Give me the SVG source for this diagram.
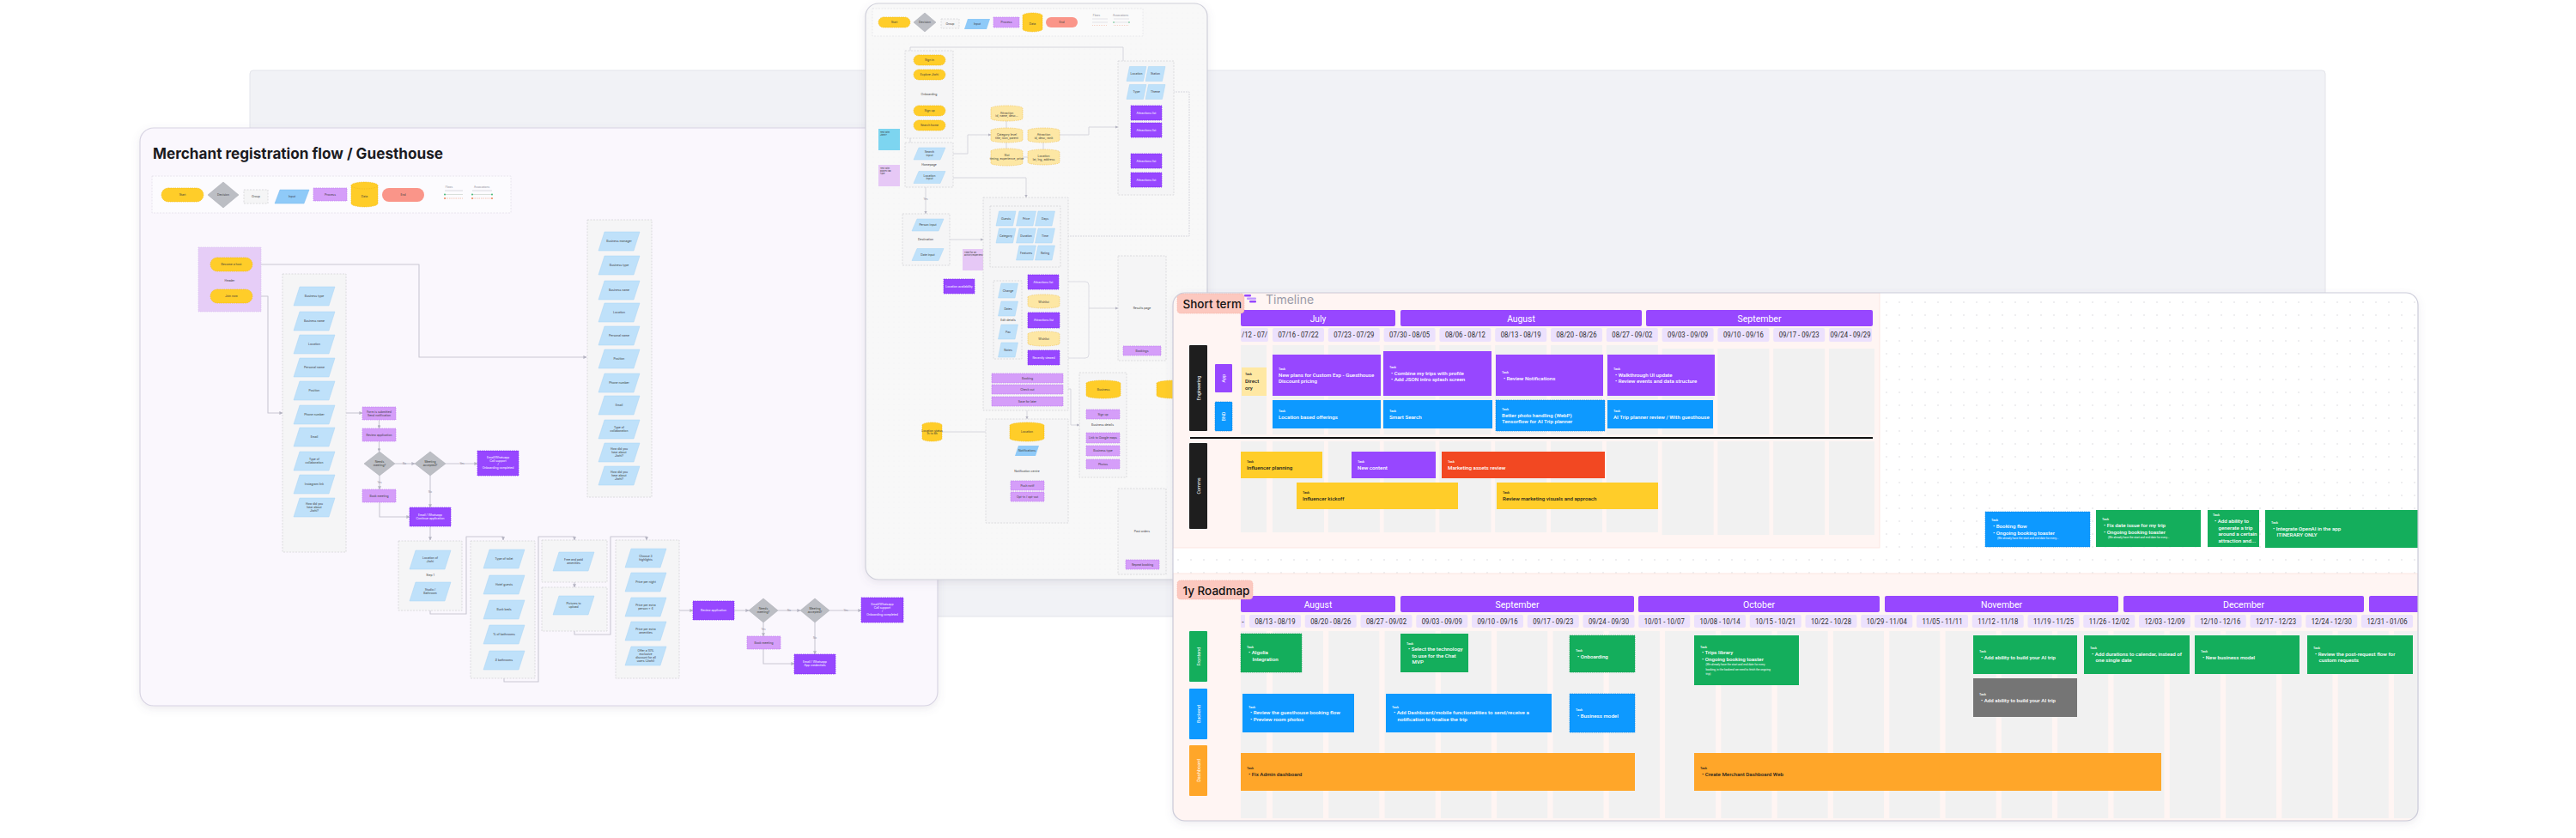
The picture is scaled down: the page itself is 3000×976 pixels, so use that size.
<svg xmlns="http://www.w3.org/2000/svg" xmlns:xlink="http://www.w3.org/1999/xlink" width="3000" height="976" viewBox="0 0 3000 976">
<defs>
<style>
.ff{font-family:Inter,'Noto Sans','Liberation Sans',sans-serif}
.t{font-family:Inter,'Noto Sans','Liberation Sans',sans-serif;font-size:3.4px;fill:#3a3a3a;text-anchor:middle}
.tw{font-family:Inter,'Noto Sans','Liberation Sans',sans-serif;font-size:3.4px;fill:#fff;text-anchor:middle}
.tl{font-family:Inter,'Noto Sans','Liberation Sans',sans-serif;font-size:3px;fill:#8a8a95;text-anchor:middle}
.grp{fill:#f5f5f6;stroke:#d4d4d8;stroke-width:0.8;stroke-dasharray:2 1.5}
.para{fill:#bfe1fa;stroke:#a9d4f5;stroke-width:0.5}
.pr{fill:#d59ef9;stroke:#c27ff2;stroke-width:0.7;stroke-dasharray:1.5 1}
.pd{fill:#9747ff;stroke:#7f2cf5;stroke-width:0.7;stroke-dasharray:1.5 1}
.dm{fill:#bcbec4;stroke:#a9abb2;stroke-width:0.5}
.yl{fill:#ffcd29;stroke:#f0b912;stroke-width:0.6;stroke-dasharray:1.5 1}
.cyl{fill:#fde7a4;stroke:#f0c04e;stroke-width:0.6;stroke-dasharray:1.5 1}
.cn{fill:none;stroke:#c9c8d3;stroke-width:1.1;stroke-linejoin:round}
.cnm{fill:none;stroke:#d2d2da;stroke-width:0.9;stroke-linejoin:round}
.wk{fill:#ece1fd}
.wt{font-family:Roboto,'Liberation Sans',sans-serif;font-size:8.5px;fill:#2b2b2b;text-anchor:middle}
.mb{fill:#9747ff}
.mt{font-family:Roboto,'Liberation Sans',sans-serif;font-size:11.5px;fill:#fff;text-anchor:middle}
.st{fill:#f1f1f1}
.tk{font-family:Roboto,'Liberation Sans',sans-serif;font-size:3.8px;font-weight:500}
.ct{font-family:Roboto,'Liberation Sans',sans-serif;font-size:6.2px;font-weight:500}
.cs{font-family:Roboto,'Liberation Sans',sans-serif;font-size:3.2px}
.w{fill:#fff}
.k{fill:#1e1e1e}
.rl{font-family:Roboto,'Liberation Sans',sans-serif;font-size:5.5px;fill:#fff;text-anchor:middle}
.lbl{font-family:Inter,'Noto Sans','Liberation Sans',sans-serif;font-size:13.5px;font-weight:500;fill:#111}
</style>
<pattern id="dotsT" width="15" height="15" patternUnits="userSpaceOnUse"><circle cx="7" cy="7" r="0.75" fill="#d3d3da"/></pattern>
<pattern id="dotsM" width="6" height="6" patternUnits="userSpaceOnUse"><circle cx="3" cy="3" r="0.45" fill="#e6e6ea"/></pattern>
<marker id="ar" viewBox="0 0 6 6" refX="5.5" refY="3" markerWidth="3.6" markerHeight="3.6" orient="auto"><path d="M0,0L6,3L0,6z" fill="#b5b4c2"/></marker>
<filter id="sh" x="-5%" y="-5%" width="110%" height="112%"><feDropShadow dx="0" dy="3" stdDeviation="5" flood-color="#6a6080" flood-opacity="0.13"/></filter>
<polygon id="pl" points="-17,-11 24,-11 17,11 -24,11"/>
<polygon id="pm" points="-12.5,-7 18.5,-7 12.5,7 -18.5,7"/>
<polygon id="ps" points="-8,-8.5 11.5,-8.5 8,8.5 -11.5,8.5"/>
<polygon id="dia" points="0,-14 18,0 0,14 -18,0"/>
<polygon id="diaS" points="0,-14 17,0 0,14 -17,0"/>
<clipPath id="tlc"><rect x="1366" y="341" width="1450" height="615" rx="14"/></clipPath>
<clipPath id="c1"><rect x="1445" y="382" width="32" height="16"/></clipPath>
</defs>

<rect width="3000" height="976" fill="#ffffff"/>
<rect id="backdrop" x="291" y="82" width="2417" height="636" rx="4" fill="#f1f2f6" stroke="#e3e4ea" stroke-width="1"/>

<!-- ============ LEFT PANEL ============ -->
<g id="merchant-flow">
<rect x="163" y="149" width="929" height="673" rx="16" fill="#faf7fd" stroke="#d8d4e3" stroke-width="1.2" filter="url(#sh)"/>
<text class="ff" x="178" y="185" font-size="17" font-weight="700" fill="#1b1b1f" textLength="338" lengthAdjust="spacingAndGlyphs">Merchant registration flow / Guesthouse</text>
<g id="legend-left">
<rect x="177" y="205" width="418" height="43" fill="#fcfbfe" stroke="#e3e0ea" stroke-width="0.8" stroke-dasharray="2 1.5"/>
<rect x="188" y="219" width="49" height="16" rx="8" class="yl"/><text class="t" x="212.5" y="228.2">Start</text>
<polygon points="260,212 278,227 260,242 242,227" class="dm"/><text class="t" x="260" y="228.2">Decision</text>
<rect x="284" y="221" width="28" height="16" class="grp" fill="#fafafa"/><text class="t" x="298" y="230.2">Group</text>
<polygon points="326,221 360,221 354,237 320,237" fill="#8fcaf8" stroke="#7ab8ef" stroke-width="0.5"/><text class="t" x="340" y="230.2">Input</text>
<rect x="365" y="219" width="39" height="15" class="pr"/><text class="t" x="384.5" y="227.7">Process</text>
<path d="M409,216a15.5,4 0 0 1 31,0v21a15.5,4 0 0 1 -31,0z" class="yl"/><path d="M409,216a15.5,4 0 0 0 31,0" fill="none" stroke="#e5ad10" stroke-width="0.5" stroke-dasharray="1 1"/><text class="t" x="424.5" y="230">Data</text>
<rect x="445" y="219" width="49" height="16" rx="8" fill="#fa9589"/><text class="t" x="469.5" y="228.2">End</text>
<text class="tl" x="523" y="218.5">Flows</text>
<path d="M518,222H539" stroke="#d0d0d8" stroke-width="0.8"/><path d="M518,226.5H539" stroke="#cfd8d2" stroke-width="0.8"/><path d="M518,231H539" stroke="#f3b9a2" stroke-width="0.8" stroke-dasharray="1.5 1"/>
<circle cx="518" cy="226.5" r="0.9" fill="#33b36b"/><circle cx="518" cy="231" r="0.9" fill="#ee7a4e"/>
<text class="tl" x="561" y="218.5">Associations</text>
<path d="M550,222H573" stroke="#d0d0d8" stroke-width="0.8"/><path d="M550,226.5H573" stroke="#cfd8d2" stroke-width="0.8"/><path d="M550,231H573" stroke="#f3b9a2" stroke-width="0.8" stroke-dasharray="1.5 1"/>
<circle cx="550" cy="226.5" r="0.9" fill="#33b36b"/><circle cx="573" cy="226.5" r="0.9" fill="#33b36b"/><circle cx="550" cy="231" r="0.9" fill="#ee7a4e"/><circle cx="573" cy="231" r="0.9" fill="#ee7a4e"/>
</g>

<g id="left-connectors">
<path class="cn" d="M294,308H488V416H683" marker-end="url(#ar)"/>
<path class="cn" d="M294,345H312V481H329" marker-end="url(#ar)"/>
<path class="cn" d="M403,481H422" marker-end="url(#ar)"/>
<path class="cn" d="M441.5,489V499" marker-end="url(#ar)"/>
<path class="cn" d="M441.5,514V526" marker-end="url(#ar)"/>
<path class="cn" d="M460,540H483" marker-end="url(#ar)"/>
<path class="cn" d="M519,540H556" marker-end="url(#ar)"/>
<path class="cn" d="M442,554V570" marker-end="url(#ar)"/>
<path class="cn" d="M442,585V602H477" marker-end="url(#ar)"/>
<path class="cn" d="M501,554V591" marker-end="url(#ar)"/>
<path class="cn" d="M501,613V629" marker-end="url(#ar)"/>
<path class="cn" d="M501,711V715H543V625H586V629" marker-end="url(#ar)"/>
<path class="cn" d="M587,790V794H627V625H669V629" marker-end="url(#ar)"/>
<path class="cn" d="M669,678V684" marker-end="url(#ar)"/>
<path class="cn" d="M669,735V739H711V625H753V629" marker-end="url(#ar)"/>
<path class="cn" d="M791,711H807" marker-end="url(#ar)"/>
<path class="cn" d="M855,711H872" marker-end="url(#ar)"/>
<path class="cn" d="M906,711H932" marker-end="url(#ar)"/>
<path class="cn" d="M966,711H1003" marker-end="url(#ar)"/>
<path class="cn" d="M889,725V741" marker-end="url(#ar)"/>
<path class="cn" d="M889,756V773H925" marker-end="url(#ar)"/>
<path class="cn" d="M949,725V762" marker-end="url(#ar)"/>
<text class="tl" x="471" y="541">No</text><text class="tl" x="538" y="541">Yes</text>
<text class="tl" x="442" y="563">Yes</text><text class="tl" x="501" y="574">No</text>
<text class="tl" x="919" y="712">No</text><text class="tl" x="985" y="712">Yes</text>
<text class="tl" x="889" y="734">Yes</text><text class="tl" x="949" y="744">No</text>
</g>

<g id="start-group">
<rect x="231" y="288" width="73" height="75" fill="#e6cdf7" stroke="#d9bdf0" stroke-width="0.6" stroke-dasharray="1.5 1"/>
<rect x="245" y="300" width="49" height="16" rx="8" class="yl"/><text class="t" x="269.5" y="309.2">Become a host</text>
<text class="t" x="267.5" y="327.5">Header</text>
<rect x="245" y="337" width="49" height="16" rx="8" class="yl"/><text class="t" x="269.5" y="346.2">Join now</text>
</g>

<g id="form-step1">
<rect x="329" y="319" width="74" height="324" class="grp"/>
<use href="#pl" x="366" y="345" class="para"/><text class="t" x="366" y="346.2">Business type</text>
<use href="#pl" x="366" y="374" class="para"/><text class="t" x="366" y="375.2">Business name</text>
<use href="#pl" x="366" y="401" class="para"/><text class="t" x="366" y="402.2">Location</text>
<use href="#pl" x="366" y="428" class="para"/><text class="t" x="366" y="429.2">Personal name</text>
<use href="#pl" x="366" y="455" class="para"/><text class="t" x="366" y="456.2">Position</text>
<use href="#pl" x="366" y="483" class="para"/><text class="t" x="366" y="484.2">Phone number</text>
<use href="#pl" x="366" y="509" class="para"/><text class="t" x="366" y="510.2">Email</text>
<use href="#pl" x="366" y="537" class="para"/><text class="t" x="366" y="535.6">Type of</text><text class="t" x="366" y="539.8">collaboration</text>
<use href="#pl" x="366" y="564" class="para"/><text class="t" x="366" y="565.2">Instagram link</text>
<use href="#pl" x="366" y="591" class="para"/><text class="t" x="366" y="587.8">How did you</text><text class="t" x="366" y="592">hear about</text><text class="t" x="366" y="596.2">Jiwhi?</text>
</g>

<g id="form-step1b">
<rect x="684" y="256" width="75" height="323" class="grp"/>
<use href="#pl" x="721" y="281" class="para"/><text class="t" x="721" y="282.2">Business manager</text>
<use href="#pl" x="721" y="309" class="para"/><text class="t" x="721" y="310.2">Business type</text>
<use href="#pl" x="721" y="338" class="para"/><text class="t" x="721" y="339.2">Business name</text>
<use href="#pl" x="721" y="364" class="para"/><text class="t" x="721" y="365.2">Location</text>
<use href="#pl" x="721" y="391" class="para"/><text class="t" x="721" y="392.2">Personal name</text>
<use href="#pl" x="721" y="418" class="para"/><text class="t" x="721" y="419.2">Position</text>
<use href="#pl" x="721" y="446" class="para"/><text class="t" x="721" y="447.2">Phone number</text>
<use href="#pl" x="721" y="472" class="para"/><text class="t" x="721" y="473.2">Email</text>
<use href="#pl" x="721" y="500" class="para"/><text class="t" x="721" y="498.6">Type of</text><text class="t" x="721" y="502.8">collaboration</text>
<use href="#pl" x="721" y="527" class="para"/><text class="t" x="721" y="523.8">How did you</text><text class="t" x="721" y="528">hear about</text><text class="t" x="721" y="532.2">Jiwhi?</text>
<use href="#pl" x="721" y="554" class="para"/><text class="t" x="721" y="550.8">How did you</text><text class="t" x="721" y="555">hear about</text><text class="t" x="721" y="559.2">Jiwhi?</text>
</g>

<g id="review-flow-1">
<rect x="422" y="474" width="39" height="15" class="pr"/><text class="t" x="441.5" y="480.5">Form is submitted</text><text class="t" x="441.5" y="484.6">Send notification</text>
<rect x="422" y="499" width="39" height="15" class="pr"/><text class="t" x="441.5" y="507.6">Review application</text>
<use href="#dia" x="442" y="540" class="dm"/><text class="t" x="442" y="539">Needs</text><text class="t" x="442" y="543">meeting?</text>
<use href="#dia" x="501" y="540" class="dm"/><text class="t" x="501" y="539">Meeting</text><text class="t" x="501" y="543">accepted?</text>
<rect x="556" y="525" width="48" height="29" class="pd"/><text class="tw" x="580" y="533.5">Email/Whatsapp</text><text class="tw" x="580" y="537.7">Call support</text><text class="tw" x="580" y="541.9">/</text><text class="tw" x="580" y="546.1">Onboarding completed</text>
<rect x="422" y="570" width="39" height="15" class="pr"/><text class="t" x="441.5" y="578.6">Book meeting</text>
<rect x="477" y="591" width="48" height="22" class="pd"/><text class="tw" x="501" y="600.8">Email / Whatsapp</text><text class="tw" x="501" y="605">Continue application</text>
</g>

<g id="form-step2">
<rect x="464" y="630" width="74" height="81" class="grp"/>
<use href="#pl" x="501" y="652" class="para"/><text class="t" x="501" y="650.6">Location of</text><text class="t" x="501" y="654.8">Jiwhi</text>
<text class="t" x="501" y="671.2">Step 1</text>
<use href="#pl" x="501" y="689" class="para"/><text class="t" x="501" y="687.6">Studio /</text><text class="t" x="501" y="691.8">Bathroom</text>
</g>
<g id="form-step3">
<rect x="548" y="630" width="75" height="160" class="grp"/>
<use href="#pl" x="587" y="651" class="para"/><text class="t" x="587" y="652.2">Type of toilet</text>
<use href="#pl" x="587" y="681" class="para"/><text class="t" x="587" y="682.2">Hotel guests</text>
<use href="#pl" x="587" y="710" class="para"/><text class="t" x="587" y="711.2">Bunk beds</text>
<use href="#pl" x="587" y="739" class="para"/><text class="t" x="587" y="740.2">% of bathrooms</text>
<use href="#pl" x="587" y="769" class="para"/><text class="t" x="587" y="770.2"># bathrooms</text>
</g>
<g id="form-step4">
<rect x="631" y="629" width="76" height="49" class="grp"/>
<use href="#pl" x="668" y="654" class="para"/><text class="t" x="668" y="652.6">Free and paid</text><text class="t" x="668" y="656.8">amenities</text>
</g>
<g id="form-step5">
<rect x="631" y="684" width="76" height="51" class="grp"/>
<use href="#pl" x="668" y="705" class="para"/><text class="t" x="668" y="703.6">Pictures to</text><text class="t" x="668" y="707.8">upload</text>
</g>
<g id="form-step6">
<rect x="717" y="629" width="74" height="161" class="grp"/>
<use href="#pl" x="752" y="650" class="para"/><text class="t" x="752" y="648.6">Choose 3</text><text class="t" x="752" y="652.8">highlights</text>
<use href="#pl" x="752" y="678" class="para"/><text class="t" x="752" y="679.2">Price per night</text>
<use href="#pl" x="752" y="707" class="para"/><text class="t" x="752" y="705.6">Price per extra</text><text class="t" x="752" y="709.8">person + 4</text>
<use href="#pl" x="752" y="735" class="para"/><text class="t" x="752" y="733.6">Price per extra</text><text class="t" x="752" y="737.8">amenities</text>
<use href="#pl" x="752" y="764" class="para"/><text class="t" x="752" y="758.6">Offer a 10%</text><text class="t" x="752" y="762.8">exclusive</text><text class="t" x="752" y="767">discount for all</text><text class="t" x="752" y="771.2">users (Jiwhi)</text>
</g>
<g id="review-flow-2">
<rect x="807" y="700" width="48" height="22" class="pd"/><text class="tw" x="831" y="712.2">Review application</text>
<use href="#diaS" x="889" y="711" class="dm"/><text class="t" x="889" y="710">Needs</text><text class="t" x="889" y="714">meeting?</text>
<use href="#diaS" x="949" y="711" class="dm"/><text class="t" x="949" y="710">Meeting</text><text class="t" x="949" y="714">accepted?</text>
<rect x="1003" y="696" width="49" height="29" class="pd"/><text class="tw" x="1027.5" y="704.5">Email/Whatsapp</text><text class="tw" x="1027.5" y="708.7">Call support</text><text class="tw" x="1027.5" y="712.9">/</text><text class="tw" x="1027.5" y="717.1">Onboarding completed</text>
<rect x="870" y="741" width="39" height="15" class="pr"/><text class="t" x="889.5" y="749.6">Book meeting</text>
<rect x="925" y="762" width="48" height="23" class="pd"/><text class="tw" x="949" y="772">Email / Whatsapp</text><text class="tw" x="949" y="776.2">App credentials</text>
</g>
</g>

<!-- ============ MIDDLE PANEL ============ -->
<g id="app-flow">
<rect x="1008" y="4" width="398" height="671" rx="15" fill="#f8f8f8" stroke="#cfcfda" stroke-width="1.2" filter="url(#sh)"/>
<rect x="1008" y="4" width="398" height="671" rx="15" fill="url(#dotsM)"/>
<g id="legend-mid">
<rect x="1016" y="10" width="315" height="32" fill="#fafafa" stroke="#e2e2e6" stroke-width="0.7" stroke-dasharray="2 1.5"/>
<rect x="1023" y="20" width="37" height="12" rx="6" class="yl"/><text class="t" x="1041.5" y="27.2" font-size="2.8">Start</text>
<polygon points="1077,15 1090,26 1077,37 1064,26" class="dm"/><text class="t" x="1077" y="27" font-size="2.8">Decision</text>
<rect x="1096" y="22" width="21" height="11" class="grp" fill="#fafafa"/><text class="t" x="1106.5" y="28.5" font-size="2.8">Group</text>
<polygon points="1127,22 1153,22 1149,34 1123,34" fill="#8fcaf8"/><text class="t" x="1138" y="29" font-size="2.8">Input</text>
<rect x="1157" y="20" width="30" height="12" class="pr"/><text class="t" x="1172" y="27" font-size="2.8">Process</text>
<path d="M1191,18a11.5,3 0 0 1 23,0v16a11.5,3 0 0 1 -23,0z" class="yl"/><text class="t" x="1202.5" y="28.5" font-size="2.8">Data</text>
<rect x="1218" y="20" width="37" height="12" rx="6" fill="#fa9589"/><text class="t" x="1236.5" y="27.2" font-size="2.8">End</text>
<text class="tl" x="1277" y="19" font-size="2.5">Flows</text>
<path d="M1272,22H1290M1272,26H1290" stroke="#d4d4dc" stroke-width="0.6"/><path d="M1272,29.5H1290" stroke="#f3b9a2" stroke-width="0.6" stroke-dasharray="1 1"/>
<text class="tl" x="1305" y="19" font-size="2.5">Associations</text>
<path d="M1297,22H1315M1297,26H1315" stroke="#d4d4dc" stroke-width="0.6"/><path d="M1297,29.5H1315" stroke="#f3b9a2" stroke-width="0.6" stroke-dasharray="1 1"/>
<circle cx="1297" cy="26" r="0.7" fill="#33b36b"/><circle cx="1315" cy="26" r="0.7" fill="#33b36b"/>
</g>
<g id="mid-connectors">
<path class="cnm" d="M1060,207V55H1308V132H1317" marker-end="url(#ar)"/>
<path class="cnm" d="M1101,179H1127V157H1154" marker-end="url(#ar)"/>
<path class="cnm" d="M1234,157H1268V148H1302" marker-end="url(#ar)"/>
<path class="cnm" d="M1357,107H1385V275H1235" marker-end="url(#ar)" stroke-dasharray="2 1"/>
<path class="cnm" d="M1101,207H1195V230" marker-end="url(#ar)"/>
<path class="cnm" d="M1078,218V249" marker-end="url(#ar)"/>
<text class="tl" x="1078" y="233" font-size="2.5">Yes</text>
<path class="cnm" d="M1106,279H1145" marker-end="url(#ar)"/>
<rect x="1193" y="328" width="75" height="89" rx="4" fill="none" stroke="#d6d6de" stroke-width="0.8"/>
<path class="cnm" d="M1268,359H1302" marker-end="url(#ar)"/>
<path class="cnm" d="M1238,453H1247V495H1257" marker-end="url(#ar)"/>
<path class="cnm" d="M1196,478V488" marker-end="url(#ar)"/>
<path class="cnm" d="M1097,503H1176" marker-end="url(#ar)"/>
<path class="cnm" d="M1172,141V149M1172,166V173M1215,166V174M1191,183H1197"/>
</g>
<g id="group-a">
<rect x="1054" y="59" width="56" height="102" class="grp"/>
<rect x="1064" y="64" width="37" height="12" rx="6" class="yl"/><text class="t" x="1082.5" y="71" font-size="2.6">Sign in</text>
<rect x="1064" y="81" width="37" height="12" rx="6" class="yl"/><text class="t" x="1082.5" y="88" font-size="2.6">Explore Jiwhi</text>
<text class="t" x="1082" y="111" font-size="2.6">Onboarding</text>
<rect x="1064" y="123" width="37" height="12" rx="6" class="yl"/><text class="t" x="1082.5" y="130" font-size="2.6">Sign up</text>
<rect x="1064" y="140" width="37" height="12" rx="6" class="yl"/><text class="t" x="1082.5" y="147" font-size="2.6">Search home</text>
</g>
<g id="group-b">
<rect x="1054" y="166" width="56" height="52" class="grp"/>
<use href="#pm" x="1082.5" y="179" class="para"/><text class="t" x="1082.5" y="178" font-size="2.6">Search</text><text class="t" x="1082.5" y="181.5" font-size="2.6">input</text>
<text class="t" x="1082" y="193" font-size="2.6">Homepage</text>
<use href="#pm" x="1082.5" y="206.5" class="para"/><text class="t" x="1082.5" y="205.5" font-size="2.6">Location</text><text class="t" x="1082.5" y="209" font-size="2.6">input</text>
</g>
<g id="stickies">
<rect x="1023" y="150" width="25" height="25" fill="#7dd5f0"/><text class="ff" x="1025" y="155" font-size="2.6" fill="#333">Test with</text><text class="ff" x="1025" y="158" font-size="2.6" fill="#333">Jiwhi?</text>
<rect x="1023" y="192" width="25" height="25" fill="#e6c8f6"/><text class="ff" x="1025" y="197" font-size="2.6" fill="#333">Test with</text><text class="ff" x="1025" y="200" font-size="2.6" fill="#333">places tab</text><text class="ff" x="1025" y="203" font-size="2.6" fill="#333">type</text>
<rect x="1121" y="290" width="26" height="25" fill="#e6c8f6"/><text class="ff" x="1123" y="295" font-size="2.6" fill="#333">Time for an</text><text class="ff" x="1123" y="298" font-size="2.6" fill="#333">activity/experience</text>
</g>
<g id="data-stores">
<path d="M1154,126a18.5,3 0 0 1 37,0v12a18.5,3 0 0 1 -37,0z" class="cyl"/><text class="t" x="1172.5" y="132.5" font-size="2.6">Attraction</text><text class="t" x="1172.5" y="136" font-size="2.6">id, name, desc...</text>
<path d="M1154,152a18.5,3 0 0 1 37,0v11a18.5,3 0 0 1 -37,0z" class="cyl"/><text class="t" x="1172.5" y="158" font-size="2.6">Category level</text><text class="t" x="1172.5" y="161.5" font-size="2.6">title, icon, parent</text>
<path d="M1197,152a18.5,3 0 0 1 37,0v11a18.5,3 0 0 1 -37,0z" class="cyl"/><text class="t" x="1215.5" y="158" font-size="2.6">Attraction</text><text class="t" x="1215.5" y="161.5" font-size="2.6">id, desc, rank</text>
<path d="M1154,176a18.5,3 0 0 1 37,0v14a18.5,3 0 0 1 -37,0z" class="cyl"/><text class="t" x="1172.5" y="182" font-size="2.6">Slot</text><text class="t" x="1172.5" y="185.5" font-size="2.6">timing, experience, price</text>
<path d="M1197,177a18.5,3 0 0 1 37,0v12a18.5,3 0 0 1 -37,0z" class="cyl"/><text class="t" x="1215.5" y="183" font-size="2.6">Location</text><text class="t" x="1215.5" y="186.5" font-size="2.6">lat, lng, address</text>
</g>
<g id="group-r">
<rect x="1302" y="71" width="65" height="156" class="grp"/>
<use href="#ps" x="1323.5" y="86" class="para"/><text class="t" x="1323.5" y="87" font-size="2.5">Location</text>
<use href="#ps" x="1345.5" y="86" class="para"/><text class="t" x="1345.5" y="87" font-size="2.5">Station</text>
<use href="#ps" x="1323.5" y="107" class="para"/><text class="t" x="1323.5" y="108" font-size="2.5">Type</text>
<use href="#ps" x="1345.5" y="107" class="para"/><text class="t" x="1345.5" y="108" font-size="2.5">Theme</text>
<rect x="1317" y="123" width="36" height="17" class="pd"/><text class="tw" x="1335" y="132.5" font-size="2.5">Attractions list</text>
<rect x="1317" y="143" width="36" height="17" class="pd"/><text class="tw" x="1335" y="152.5" font-size="2.5">Attractions list</text>
<rect x="1317" y="179" width="36" height="17" class="pd"/><text class="tw" x="1335" y="188.5" font-size="2.5">Attractions list</text>
<rect x="1317" y="201" width="36" height="17" class="pd"/><text class="tw" x="1335" y="210.5" font-size="2.5">Attractions list</text>
</g>
<g id="group-c">
<rect x="1051" y="249" width="55" height="60" class="grp"/>
<use href="#pm" x="1080.5" y="262" class="para"/><text class="t" x="1080.5" y="263" font-size="2.6">Person input</text>
<text class="t" x="1078" y="280" font-size="2.6">Destination</text>
<use href="#pm" x="1080.5" y="296.5" class="para"/><text class="t" x="1080.5" y="297.5" font-size="2.6">Date input</text>
</g>
<rect x="1099" y="325" width="36" height="17" class="pd"/><text class="tw" x="1117" y="334.5" font-size="2.5">Location availability</text>
<g id="group-d">
<rect x="1145" y="230" width="99" height="248" class="grp"/>
<rect x="1153" y="240" width="82" height="71" class="grp" fill="#f9f9fa"/>
<use href="#ps" x="1171.5" y="254.5" class="para"/><use href="#ps" x="1195" y="254.5" class="para"/><use href="#ps" x="1217" y="254.5" class="para"/>
<use href="#ps" x="1171.5" y="274.5" class="para"/><use href="#ps" x="1195" y="274.5" class="para"/><use href="#ps" x="1217" y="274.5" class="para"/>
<use href="#ps" x="1195" y="294.5" class="para"/><use href="#ps" x="1217" y="294.5" class="para"/>
<text class="t" x="1171.5" y="255.5" font-size="2.4">Guests</text><text class="t" x="1195" y="255.5" font-size="2.4">Price</text><text class="t" x="1217" y="255.5" font-size="2.4">Days</text>
<text class="t" x="1171.5" y="275.5" font-size="2.4">Category</text><text class="t" x="1195" y="275.5" font-size="2.4">Duration</text><text class="t" x="1217" y="275.5" font-size="2.4">Time</text>
<text class="t" x="1195" y="295.5" font-size="2.4">Features</text><text class="t" x="1217" y="295.5" font-size="2.4">Rating</text>
<rect x="1157" y="327" width="33" height="91" class="grp" fill="#f9f9fa"/>
<use href="#ps" x="1174" y="338.5" class="para"/><text class="t" x="1174" y="339.5" font-size="2.4">Change</text>
<use href="#ps" x="1174" y="359.5" class="para"/><text class="t" x="1174" y="360.5" font-size="2.4">Dates</text>
<text class="t" x="1174" y="374" font-size="2.4">Edit details</text>
<use href="#ps" x="1174" y="386.5" class="para"/><text class="t" x="1174" y="387.5" font-size="2.4">Pax</text>
<use href="#ps" x="1174" y="407.5" class="para"/><text class="t" x="1174" y="408.5" font-size="2.4">Notes</text>
<rect x="1197" y="320" width="36" height="17" class="pd"/><text class="tw" x="1215" y="329.5" font-size="2.4">Attractions list</text>
<path d="M1197,346a18.5,3 0 0 1 37,0v10a18.5,3 0 0 1 -37,0z" class="cyl"/><text class="t" x="1215.5" y="352.5" font-size="2.4">Wishlist</text>
<rect x="1197" y="364" width="37" height="18" class="pd"/><text class="tw" x="1215.5" y="374" font-size="2.4">Attractions list</text>
<path d="M1197,389a18.5,3 0 0 1 37,0v11a18.5,3 0 0 1 -37,0z" class="cyl"/><text class="t" x="1215.5" y="396" font-size="2.4">Wishlist</text>
<rect x="1197" y="408" width="37" height="17" class="pd"/><text class="tw" x="1215.5" y="417.5" font-size="2.4">Recently viewed</text>
<rect x="1155" y="435" width="83" height="11" class="pr"/><text class="t" x="1196.5" y="441.5" font-size="2.6">Booking</text>
<rect x="1155" y="448" width="83" height="11" class="pr"/><text class="t" x="1196.5" y="454.5" font-size="2.6">Check out</text>
<rect x="1155" y="462" width="83" height="11" class="pr"/><text class="t" x="1196.5" y="468.5" font-size="2.6">Save for later</text>
</g>
<g id="group-e">
<rect x="1302" y="298" width="56" height="122" class="grp"/>
<text class="t" x="1330" y="360" font-size="2.6">Results page</text>
<rect x="1308" y="403" width="44" height="11" class="pr"/><text class="t" x="1330" y="409.5" font-size="2.5">Bookings</text>
</g>
<g id="group-f">
<rect x="1148" y="488" width="96" height="121" class="grp"/>
<path d="M1176,495.5a20,3.5 0 0 1 40,0v15a20,3.5 0 0 1 -40,0z" class="yl"/><text class="t" x="1196" y="504" font-size="2.6">Location</text>
<polygon points="1186,519 1210,519 1206,531 1182,531" fill="#8fcaf8"/><text class="t" x="1196" y="526" font-size="2.4">Notifications</text>
<text class="t" x="1196" y="550" font-size="2.6">Notification centre</text>
<rect x="1177" y="560" width="39" height="11" class="pr"/><text class="t" x="1196.5" y="566.5" font-size="2.4">Push notif</text>
<rect x="1177" y="573" width="39" height="11" class="pr"/><text class="t" x="1196.5" y="579.5" font-size="2.4">Opt-in / opt-out</text>
</g>
<path d="M1074,495a11.5,3 0 0 1 23,0v16a11.5,3 0 0 1 -23,0z" class="yl"/><text class="t" x="1085.5" y="502.5" font-size="2.4">Location status</text><text class="t" x="1085.5" y="505.5" font-size="2.4">1h to 6h</text>
<g id="group-g">
<rect x="1257" y="434" width="55" height="122" class="grp"/>
<path d="M1265,446.5a20,3.5 0 0 1 40,0v14a20,3.5 0 0 1 -40,0z" class="yl"/><text class="t" x="1285" y="455" font-size="2.6">Business</text>
<rect x="1265" y="477" width="39" height="11" class="pr"/><text class="t" x="1284.5" y="483.5" font-size="2.4">Sign up</text>
<text class="t" x="1284" y="496" font-size="2.4">Business details</text>
<rect x="1265" y="504" width="39" height="12" class="pr"/><text class="t" x="1284.5" y="511" font-size="2.4">Link to Google maps</text>
<rect x="1265" y="519" width="39" height="12" class="pr"/><text class="t" x="1284.5" y="526" font-size="2.4">Business type</text>
<rect x="1265" y="535" width="39" height="11" class="pr"/><text class="t" x="1284.5" y="541.5" font-size="2.4">Photos</text>
</g>
<g id="group-h">
<rect x="1302" y="569" width="56" height="100" class="grp"/>
<text class="t" x="1330" y="620" font-size="2.6">Past orders</text>
<rect x="1311" y="652" width="39" height="11" class="pr"/><text class="t" x="1330.5" y="658.5" font-size="2.4">Repeat booking</text>
</g>
<path d="M1347,446.5a20,3.5 0 0 1 40,0v14a20,3.5 0 0 1 -40,0z" class="yl"/>
</g>

<!-- ============ TIMELINE PANEL ============ -->
<g id="timeline">
<rect x="1366" y="341" width="1450" height="615" rx="14" fill="#ffffff" filter="url(#sh)"/>
<g clip-path="url(#tlc)">
<rect x="1366" y="341" width="1450" height="615" fill="url(#dotsT)"/>
<g id="short-term">
<rect x="1366" y="341" width="823" height="297" fill="#fff5f3" stroke="#fbe1db" stroke-width="0.8"/>
<rect x="1449" y="343" width="8" height="2.6" rx="1" fill="#9747ff"/><rect x="1452" y="346.5" width="11" height="2.6" rx="1" fill="#c29bff"/><rect x="1455" y="350" width="8" height="2.6" rx="1" fill="#9747ff"/>
<text class="ff" x="1474" y="353.5" font-size="14" fill="#9b9ba8">Timeline</text>
<g id="st-strips">
<rect class="st" x="1445" y="402" width="30" height="104"/><rect class="st" x="1445" y="514" width="30" height="106"/>
<rect class="st" x="1482" y="402" width="60" height="104"/><rect class="st" x="1482" y="514" width="60" height="106"/>
<rect class="st" x="1546.8" y="402" width="60" height="104"/><rect class="st" x="1546.8" y="514" width="60" height="106"/>
<rect class="st" x="1611.6" y="402" width="60" height="104"/><rect class="st" x="1611.6" y="514" width="60" height="106"/>
<rect class="st" x="1676.4" y="402" width="60" height="104"/><rect class="st" x="1676.4" y="514" width="60" height="106"/>
<rect class="st" x="1741.2" y="402" width="60" height="104"/><rect class="st" x="1741.2" y="514" width="60" height="106"/>
<rect class="st" x="1806" y="402" width="60" height="104"/><rect class="st" x="1806" y="514" width="60" height="106"/>
<rect class="st" x="1870.8" y="402" width="60" height="104"/><rect class="st" x="1870.8" y="514" width="60" height="106"/>
<rect class="st" x="1935.6" y="406" width="60" height="100"/><rect class="st" x="1935.6" y="514" width="60" height="109"/>
<rect class="st" x="2000.4" y="406" width="60" height="100"/><rect class="st" x="2000.4" y="514" width="60" height="109"/>
<rect class="st" x="2065.2" y="406" width="60" height="100"/><rect class="st" x="2065.2" y="514" width="60" height="109"/>
<rect class="st" x="2130" y="406" width="53" height="100"/><rect class="st" x="2130" y="514" width="53" height="109"/>
</g>
<g id="st-months">
<rect class="mb" x="1445" y="361" width="180" height="19" rx="2"/><text class="mt" x="1535" y="374.5" textLength="18.5" lengthAdjust="spacingAndGlyphs">July</text>
<rect class="mb" x="1631" y="361" width="281" height="19" rx="2"/><text class="mt" x="1771.5" y="374.5" textLength="32.6" lengthAdjust="spacingAndGlyphs">August</text>
<rect class="mb" x="1917" y="361" width="264" height="19" rx="2"/><text class="mt" x="2049" y="374.5" textLength="51" lengthAdjust="spacingAndGlyphs">September</text>
</g>
<g id="st-weeks">
<rect class="wk" x="1445" y="382" width="32" height="16" rx="2"/><text class="wt" x="1461" y="393" textLength="30" lengthAdjust="spacingAndGlyphs" clip-path="url(#c1)">/12 - 07/</text>
<rect class="wk" x="1482" y="382" width="60" height="16" rx="2"/><text class="wt" x="1512" y="393" textLength="47" lengthAdjust="spacingAndGlyphs">07/16 - 07/22</text>
<rect class="wk" x="1546.8" y="382" width="60" height="16" rx="2"/><text class="wt" x="1576.8" y="393" textLength="47" lengthAdjust="spacingAndGlyphs">07/23 - 07/29</text>
<rect class="wk" x="1611.6" y="382" width="60" height="16" rx="2"/><text class="wt" x="1641.6" y="393" textLength="47" lengthAdjust="spacingAndGlyphs">07/30 - 08/05</text>
<rect class="wk" x="1676.4" y="382" width="60" height="16" rx="2"/><text class="wt" x="1706.4" y="393" textLength="47" lengthAdjust="spacingAndGlyphs">08/06 - 08/12</text>
<rect class="wk" x="1741.2" y="382" width="60" height="16" rx="2"/><text class="wt" x="1771.2" y="393" textLength="47" lengthAdjust="spacingAndGlyphs">08/13 - 08/19</text>
<rect class="wk" x="1806" y="382" width="60" height="16" rx="2"/><text class="wt" x="1836" y="393" textLength="47" lengthAdjust="spacingAndGlyphs">08/20 - 08/26</text>
<rect class="wk" x="1870.8" y="382" width="60" height="16" rx="2"/><text class="wt" x="1900.8" y="393" textLength="47" lengthAdjust="spacingAndGlyphs">08/27 - 09/02</text>
<rect class="wk" x="1935.6" y="382" width="60" height="16" rx="2"/><text class="wt" x="1965.6" y="393" textLength="47" lengthAdjust="spacingAndGlyphs">09/03 - 09/09</text>
<rect class="wk" x="2000.4" y="382" width="60" height="16" rx="2"/><text class="wt" x="2030.4" y="393" textLength="47" lengthAdjust="spacingAndGlyphs">09/10 - 09/16</text>
<rect class="wk" x="2065.2" y="382" width="60" height="16" rx="2"/><text class="wt" x="2095.2" y="393" textLength="47" lengthAdjust="spacingAndGlyphs">09/17 - 09/23</text>
<rect class="wk" x="2130" y="382" width="50" height="16" rx="2"/><text class="wt" x="2155" y="393" textLength="47" lengthAdjust="spacingAndGlyphs">09/24 - 09/29</text>
</g>
<g id="st-rows">
<rect x="1385" y="402" width="21" height="100" rx="1" fill="#1e1e1e"/><text class="rl" transform="translate(1397.5,452) rotate(-90)">Engineering</text>
<rect x="1385" y="516" width="21" height="100" rx="1" fill="#1e1e1e"/><text class="rl" transform="translate(1397.5,566) rotate(-90)">Comms</text>
<rect x="1415" y="424" width="20" height="33" rx="1" fill="#9747ff"/><text class="rl" transform="translate(1427,440.5) rotate(-90)">App</text>
<rect x="1415" y="468" width="20" height="34" rx="1" fill="#0d99ff" stroke="#0a7fd6" stroke-width="0.6" stroke-dasharray="1.5 1"/><text class="rl" transform="translate(1427,485) rotate(-90)">BND</text>
<path d="M1386,510H2181" stroke="#111" stroke-width="2.2"/>
</g>
<g id="st-cards">
<g><rect x="1446" y="428" width="29" height="33" fill="#ffe8a3"/><text class="tk k" x="1450" y="437">Task</text><text class="ct k" x="1450" y="445.5" font-size="6.6">Direct</text><text class="ct k" x="1450" y="454" font-size="6.6">ory</text></g>
<g><rect x="1482" y="413" width="126" height="48" fill="#9747ff"/><text class="tk w" x="1489" y="430.9">Task</text><text class="ct w" x="1489" y="439">New plans for Custom Exp - Guesthouse</text><text class="ct w" x="1489" y="446.4">Discount pricing</text></g>
<g><rect x="1611" y="409" width="126" height="52" fill="#9747ff"/><text class="tk w" x="1618" y="428.9">Task</text><text class="ct w" x="1620" y="437">•  Combine my trips with profile</text><text class="ct w" x="1620" y="444.4">•  Add JSON intro splash screen</text></g>
<g><rect x="1742" y="413" width="125" height="48" fill="#9747ff"/><text class="tk w" x="1749" y="434.6">Task</text><text class="ct w" x="1751" y="442.7">•  Review Notifications</text></g>
<g><rect x="1872" y="413" width="125" height="48" fill="#9747ff"/><text class="tk w" x="1879" y="430.9">Task</text><text class="ct w" x="1881" y="439">•  Walkthrough UI update</text><text class="ct w" x="1881" y="446.4">•  Review events and data structure</text></g>
<g><rect x="1482" y="466" width="126" height="33" fill="#0d99ff"/><text class="tk w" x="1489" y="480.1">Task</text><text class="ct w" x="1489" y="488.2">Location based offerings</text></g>
<g><rect x="1611" y="466" width="127" height="33" fill="#0d99ff"/><text class="tk w" x="1618" y="480.1">Task</text><text class="ct w" x="1618" y="488.2">Smart Search</text></g>
<g><rect x="1742" y="466" width="127" height="36" fill="#0d99ff" stroke="#0a84e0" stroke-width="0.6" stroke-dasharray="1.5 1"/><text class="tk w" x="1749" y="477.9">Task</text><text class="ct w" x="1749" y="486">Better photo handling (WebP)</text><text class="ct w" x="1749" y="493.4">Tensorflow for AI Trip planner</text></g>
<g><rect x="1872" y="466" width="123" height="33" fill="#0d99ff"/><text class="tk w" x="1879" y="480.1">Task</text><text class="ct w" x="1879" y="488.2">AI Trip planner review / With guesthouse</text></g>
<g><rect x="1445" y="526" width="95" height="31" fill="#ffcd29"/><text class="tk k" x="1452" y="539.1">Task</text><text class="ct k" x="1452" y="547.2">Influencer planning</text></g>
<g><rect x="1574" y="526" width="98" height="31" fill="#9747ff"/><text class="tk w" x="1581" y="539.1">Task</text><text class="ct w" x="1581" y="547.2">New content</text></g>
<g><rect x="1679" y="526" width="190" height="31" fill="#f24822"/><text class="tk w" x="1686" y="539.1">Task</text><text class="ct w" x="1686" y="547.2">Marketing assets review</text></g>
<g><rect x="1510" y="562" width="188" height="31" fill="#ffcd29"/><text class="tk k" x="1517" y="575.1">Task</text><text class="ct k" x="1517" y="583.2">Influencer kickoff</text></g>
<g><rect x="1743" y="562" width="188" height="31" fill="#ffcd29"/><text class="tk k" x="1750" y="575.1">Task</text><text class="ct k" x="1750" y="583.2">Review marketing visuals and approach</text></g>
</g>
<rect x="1371" y="342" width="78" height="23" rx="4" fill="#fcc8bf" stroke="#f5b1a6" stroke-width="0.6" stroke-dasharray="1.5 1"/>
<text class="lbl" x="1377.5" y="359">Short term</text>
</g>

<g id="loose-cards">
<g><rect x="2312" y="596" width="122" height="41" fill="#0d99ff" stroke="#0a84e0" stroke-width="0.6" stroke-dasharray="1.5 1"/><text class="tk w" x="2319" y="607.3">Task</text><text class="ct w" x="2321" y="615.3">•  Booking flow</text><text class="ct w" x="2321" y="622.7">•  Ongoing booking toaster</text><text class="cs w" x="2326" y="627.5">(We already have the start and end date for every...</text></g>
<g><rect x="2441" y="594" width="122" height="43" fill="#14ae5c"/><text class="tk w" x="2448" y="606.3">Task</text><text class="ct w" x="2450" y="614.3">•  Fix date issue for my trip</text><text class="ct w" x="2450" y="621.7">•  Ongoing booking toaster</text><text class="cs w" x="2455" y="626.5">(We already have the start and end date for every...</text></g>
<g><rect x="2571" y="594" width="60" height="43" fill="#14ae5c"/><text class="tk w" x="2577" y="601.3">Task</text><text class="ct w" x="2579" y="609.3">•  Add ability to</text><text class="ct w" x="2583.5" y="617">generate a trip</text><text class="ct w" x="2583.5" y="624.3">around a certain</text><text class="ct w" x="2583.5" y="631.7">attraction and...</text></g>
<g><rect x="2638" y="594" width="178" height="44" fill="#14ae5c"/><text class="tk w" x="2645" y="610">Task</text><text class="ct w" x="2647" y="617.7">•  Integrate OpenAI in the app</text><text class="ct w" x="2651.5" y="625.3">ITINERARY ONLY</text></g>
</g>

<g id="roadmap">
<rect x="1366" y="668" width="1450" height="288" fill="#fff5f3" stroke="#fbe1db" stroke-width="0.8"/>
<g id="rm-strips">
<rect class="st" x="1445" y="735" width="30" height="218"/>
<rect class="st" x="1482" y="735" width="59" height="218"/><rect class="st" x="1547.3" y="735" width="59" height="218"/><rect class="st" x="1612.6" y="735" width="59" height="218"/><rect class="st" x="1677.9" y="735" width="59" height="218"/><rect class="st" x="1743.2" y="735" width="59" height="218"/><rect class="st" x="1808.5" y="735" width="59" height="218"/><rect class="st" x="1873.8" y="735" width="59" height="218"/><rect class="st" x="1939.1" y="735" width="59" height="218"/><rect class="st" x="2004.4" y="735" width="59" height="218"/><rect class="st" x="2069.7" y="735" width="59" height="218"/><rect class="st" x="2135" y="735" width="59" height="218"/><rect class="st" x="2200.3" y="735" width="59" height="218"/><rect class="st" x="2265.6" y="735" width="59" height="218"/><rect class="st" x="2330.9" y="735" width="59" height="218"/><rect class="st" x="2396.2" y="735" width="59" height="218"/><rect class="st" x="2461.5" y="735" width="59" height="218"/><rect class="st" x="2526.8" y="735" width="59" height="218"/><rect class="st" x="2592.1" y="735" width="59" height="218"/><rect class="st" x="2657.4" y="735" width="59" height="218"/><rect class="st" x="2722.7" y="735" width="59" height="218"/><rect class="st" x="2788" y="735" width="59" height="218"/>
</g>
<g id="rm-months">
<rect class="mb" x="1445" y="694" width="180" height="19" rx="2"/><text class="mt" x="1535" y="707.5" textLength="32.6" lengthAdjust="spacingAndGlyphs">August</text>
<rect class="mb" x="1631" y="694" width="272" height="19" rx="2"/><text class="mt" x="1767" y="707.5" textLength="51" lengthAdjust="spacingAndGlyphs">September</text>
<rect class="mb" x="1908" y="694" width="281" height="19" rx="2"/><text class="mt" x="2048.5" y="707.5" textLength="37" lengthAdjust="spacingAndGlyphs">October</text>
<rect class="mb" x="2195" y="694" width="272" height="19" rx="2"/><text class="mt" x="2331" y="707.5" textLength="48" lengthAdjust="spacingAndGlyphs">November</text>
<rect class="mb" x="2473" y="694" width="280" height="19" rx="2"/><text class="mt" x="2613" y="707.5" textLength="48" lengthAdjust="spacingAndGlyphs">December</text>
<rect class="mb" x="2759" y="694" width="80" height="19" rx="2"/>
</g>
<g id="rm-weeks">
<rect class="wk" x="1445" y="716" width="5" height="15" rx="1"/><text class="wt" x="1447.5" y="726.5">-</text>
<rect class="wk" x="1455" y="716" width="60" height="15" rx="2"/><text class="wt" x="1485" y="726.5" textLength="47" lengthAdjust="spacingAndGlyphs">08/13 - 08/19</text>
<rect class="wk" x="1519.75" y="716" width="60" height="15" rx="2"/><text class="wt" x="1549.75" y="726.5" textLength="47" lengthAdjust="spacingAndGlyphs">08/20 - 08/26</text>
<rect class="wk" x="1584.5" y="716" width="60" height="15" rx="2"/><text class="wt" x="1614.5" y="726.5" textLength="47" lengthAdjust="spacingAndGlyphs">08/27 - 09/02</text>
<rect class="wk" x="1649.25" y="716" width="60" height="15" rx="2"/><text class="wt" x="1679.25" y="726.5" textLength="47" lengthAdjust="spacingAndGlyphs">09/03 - 09/09</text>
<rect class="wk" x="1714" y="716" width="60" height="15" rx="2"/><text class="wt" x="1744" y="726.5" textLength="47" lengthAdjust="spacingAndGlyphs">09/10 - 09/16</text>
<rect class="wk" x="1778.75" y="716" width="60" height="15" rx="2"/><text class="wt" x="1808.75" y="726.5" textLength="47" lengthAdjust="spacingAndGlyphs">09/17 - 09/23</text>
<rect class="wk" x="1843.5" y="716" width="60" height="15" rx="2"/><text class="wt" x="1873.5" y="726.5" textLength="47" lengthAdjust="spacingAndGlyphs">09/24 - 09/30</text>
<rect class="wk" x="1908.25" y="716" width="60" height="15" rx="2"/><text class="wt" x="1938.25" y="726.5" textLength="47" lengthAdjust="spacingAndGlyphs">10/01 - 10/07</text>
<rect class="wk" x="1973" y="716" width="60" height="15" rx="2"/><text class="wt" x="2003" y="726.5" textLength="47" lengthAdjust="spacingAndGlyphs">10/08 - 10/14</text>
<rect class="wk" x="2037.75" y="716" width="60" height="15" rx="2"/><text class="wt" x="2067.75" y="726.5" textLength="47" lengthAdjust="spacingAndGlyphs">10/15 - 10/21</text>
<rect class="wk" x="2102.5" y="716" width="60" height="15" rx="2"/><text class="wt" x="2132.5" y="726.5" textLength="47" lengthAdjust="spacingAndGlyphs">10/22 - 10/28</text>
<rect class="wk" x="2167.25" y="716" width="60" height="15" rx="2"/><text class="wt" x="2197.25" y="726.5" textLength="47" lengthAdjust="spacingAndGlyphs">10/29 - 11/04</text>
<rect class="wk" x="2232" y="716" width="60" height="15" rx="2"/><text class="wt" x="2262" y="726.5" textLength="47" lengthAdjust="spacingAndGlyphs">11/05 - 11/11</text>
<rect class="wk" x="2296.75" y="716" width="60" height="15" rx="2"/><text class="wt" x="2326.75" y="726.5" textLength="47" lengthAdjust="spacingAndGlyphs">11/12 - 11/18</text>
<rect class="wk" x="2361.5" y="716" width="60" height="15" rx="2"/><text class="wt" x="2391.5" y="726.5" textLength="47" lengthAdjust="spacingAndGlyphs">11/19 - 11/25</text>
<rect class="wk" x="2426.25" y="716" width="60" height="15" rx="2"/><text class="wt" x="2456.25" y="726.5" textLength="47" lengthAdjust="spacingAndGlyphs">11/26 - 12/02</text>
<rect class="wk" x="2491" y="716" width="60" height="15" rx="2"/><text class="wt" x="2521" y="726.5" textLength="47" lengthAdjust="spacingAndGlyphs">12/03 - 12/09</text>
<rect class="wk" x="2555.75" y="716" width="60" height="15" rx="2"/><text class="wt" x="2585.75" y="726.5" textLength="47" lengthAdjust="spacingAndGlyphs">12/10 - 12/16</text>
<rect class="wk" x="2620.5" y="716" width="60" height="15" rx="2"/><text class="wt" x="2650.5" y="726.5" textLength="47" lengthAdjust="spacingAndGlyphs">12/17 - 12/23</text>
<rect class="wk" x="2685.25" y="716" width="60" height="15" rx="2"/><text class="wt" x="2715.25" y="726.5" textLength="47" lengthAdjust="spacingAndGlyphs">12/24 - 12/30</text>
<rect class="wk" x="2750" y="716" width="60" height="15" rx="2"/><text class="wt" x="2780" y="726.5" textLength="47" lengthAdjust="spacingAndGlyphs">12/31 - 01/06</text>
</g>
<g id="rm-rows">
<rect x="1385" y="735" width="21" height="59" rx="1" fill="#14ae5c"/><text class="rl" transform="translate(1397.5,764.5) rotate(-90)">Frontend</text>
<rect x="1385" y="802" width="21" height="59" rx="1" fill="#0d99ff"/><text class="rl" transform="translate(1397.5,831.5) rotate(-90)">Backend</text>
<rect x="1385" y="868" width="21" height="59" rx="1" fill="#ffa629"/><text class="rl" transform="translate(1397.5,897.5) rotate(-90)">Dashboard</text>
</g>
<g id="rm-cards">
<g><rect x="1445" y="738" width="71" height="45" fill="#14ae5c" stroke="#0f9a50" stroke-width="0.6" stroke-dasharray="1.5 1"/><text class="tk w" x="1452" y="754.6">Task</text><text class="ct w" x="1454" y="762" font-weight="700">•  Algolia</text><text class="ct w" x="1458.5" y="769.7" font-weight="700">Integration</text></g>
<g><rect x="1631" y="738" width="79" height="45" fill="#14ae5c"/><text class="tk w" x="1638" y="750.6">Task</text><text class="ct w" x="1640" y="758.3">•  Select the technology</text><text class="ct w" x="1644.5" y="765.7">to use for the Chat</text><text class="ct w" x="1644.5" y="773">MVP</text></g>
<g><rect x="1828" y="740" width="76" height="43" fill="#14ae5c" stroke="#0f9a50" stroke-width="0.6" stroke-dasharray="1.5 1"/><text class="tk w" x="1835" y="759">Task</text><text class="ct w" x="1837" y="766.7">•  Onboarding</text></g>
<g><rect x="1973" y="740" width="122" height="58" fill="#14ae5c"/><text class="tk w" x="1980" y="754.6">Task</text><text class="ct w" x="1982" y="762">•  Trips library</text><text class="ct w" x="1982" y="769.7">•  Ongoing booking toaster</text><text class="cs w" x="1986.5" y="775.2">(We already have the start and end date for every</text><text class="cs w" x="1986.5" y="780.5">booking, in the backend we need to fetch the ongoing</text><text class="cs w" x="1986.5" y="786.2">trip)</text></g>
<g><rect x="2298" y="740" width="121" height="45" fill="#14ae5c"/><text class="tk w" x="2305" y="760">Task</text><text class="ct w" x="2307" y="767.7">•  Add ability to build your AI trip</text></g>
<g><rect x="2427" y="740" width="123" height="45" fill="#14ae5c"/><text class="tk w" x="2434" y="756.3">Task</text><text class="ct w" x="2436" y="764" font-weight="700">•  Add durations to calendar, instead of</text><text class="ct w" x="2440.5" y="771.3" font-weight="700">one single date</text></g>
<g><rect x="2556" y="740" width="122" height="45" fill="#14ae5c"/><text class="tk w" x="2563" y="760">Task</text><text class="ct w" x="2565" y="767.7">•  New business model</text></g>
<g><rect x="2687" y="740" width="123" height="45" fill="#14ae5c"/><text class="tk w" x="2694" y="756.3">Task</text><text class="ct w" x="2696" y="764">•  Review the post-request flow for</text><text class="ct w" x="2700.5" y="771.3">custom requests</text></g>
<g><rect x="2298" y="790" width="121" height="45" fill="#757575"/><text class="tk w" x="2305" y="810">Task</text><text class="ct w" x="2307" y="817.7">•  Add ability to build your AI trip</text></g>
<g><rect x="1447" y="808" width="130" height="45" fill="#0d99ff"/><text class="tk w" x="1454" y="824.6">Task</text><text class="ct w" x="1456" y="832.3">•  Review the guesthouse booking flow</text><text class="ct w" x="1456" y="839.7">•  Preview room photos</text></g>
<g><rect x="1614" y="808" width="193" height="45" fill="#0d99ff"/><text class="tk w" x="1621" y="824.6">Task</text><text class="ct w" x="1623" y="832.3">•  Add Dashboard/mobile functionalities to send/receive a</text><text class="ct w" x="1627.5" y="839.7">notification to finalise the trip</text></g>
<g><rect x="1828" y="808" width="76" height="45" fill="#0d99ff" stroke="#0a84e0" stroke-width="0.6" stroke-dasharray="1.5 1"/><text class="tk w" x="1835" y="828">Task</text><text class="ct w" x="1837" y="836">•  Business model</text></g>
<g><rect x="1445" y="877" width="459" height="44" fill="#ffa629"/><text class="tk k" x="1452" y="896.3">Task</text><text class="ct k" x="1454" y="904">•  Fix Admin dashboard</text></g>
<g><rect x="1973" y="877" width="544" height="44" fill="#ffa629"/><text class="tk k" x="1980" y="896.3">Task</text><text class="ct k" x="1982" y="904">•  Create Merchant Dashboard Web</text></g>
</g>
<rect x="1371" y="676" width="88" height="22" rx="4" fill="#fcc8bf" stroke="#f5b1a6" stroke-width="0.6" stroke-dasharray="1.5 1"/>
<text class="lbl" x="1377.5" y="692.5">1y Roadmap</text>
</g>
</g>
<rect x="1366" y="341" width="1450" height="615" rx="14" fill="none" stroke="#cbcbd9" stroke-width="1.2"/>
</g>
</svg>
